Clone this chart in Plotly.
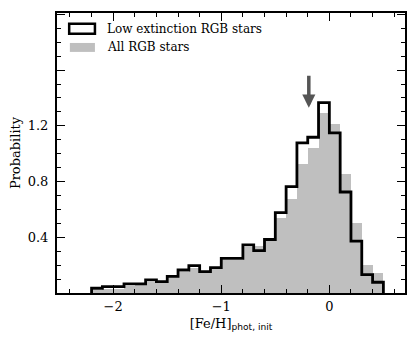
import numpy as np
import plotly.graph_objects as go

# bins of width 0.1 in [Fe/H], from -2.2 to 0.5
bin_left = np.round(np.arange(-2.2, 0.45, 0.1), 2)
bin_width = 0.1

# Low extinction RGB stars (black step outline)
low_ext = [0.034, 0.046, 0.046, 0.065, 0.065, 0.094, 0.082, 0.120, 0.165, 0.196,
           0.154, 0.182, 0.249, 0.249, 0.346, 0.304, 0.384, 0.577, 0.763, 1.077,
           1.118, 1.366, 1.149, 0.725, 0.373, 0.132, 0.077]
# All RGB stars (grey filled)
all_rgb = [0.018, 0.030, 0.030, 0.049, 0.054, 0.077, 0.073, 0.113, 0.149, 0.180,
           0.149, 0.173, 0.239, 0.239, 0.330, 0.339, 0.390, 0.541, 0.673, 0.927,
           1.042, 1.292, 1.213, 0.851, 0.506, 0.204, 0.144]

arrow_x = -0.19
arrow_y_tip, arrow_y_tail = 1.33, 1.57

SERIF = "DejaVu Serif, Liberation Serif, serif"
GREY = "#bfbfbf"

fig = go.Figure()
fig.add_trace(go.Bar(x=bin_left + bin_width / 2, y=all_rgb, width=bin_width,
                     marker=dict(color=GREY, line=dict(width=0)), showlegend=False))

edges = np.append(bin_left, bin_left[-1] + bin_width)
sx = np.concatenate([[edges[0]], edges, [edges[-1]]])
sy = np.concatenate([[0], low_ext, [low_ext[-1], 0]])
fig.add_trace(go.Scatter(x=sx, y=sy, mode="lines", line=dict(color="black", width=2.8, shape="hv"),
                         showlegend=False))

axis_common = dict(showline=True, linewidth=2, linecolor="black", mirror="ticks", ticks="inside",
                   tickcolor="black", tickwidth=1.2, ticklen=8, showgrid=False, zeroline=False,
                   tickfont=dict(family=SERIF, size=13, color="black"))
fig.update_xaxes(range=[-2.52, 0.7], tickvals=[-2, -1, 0], ticktext=["−2", "−1", "0"],
                 minor=dict(dtick=0.2, tick0=0, ticks="inside", ticklen=4, tickwidth=1, tickcolor="black"),
                 title=dict(text="[Fe/H]<sub><span style='font-family:DejaVu Sans'>phot, init</span></sub>",
                            font=dict(family=SERIF, size=13, color="black"), standoff=6),
                 **axis_common)
fig.update_yaxes(range=[0, 2.01], tickvals=[0, 0.4, 0.8, 1.2, 1.6, 2.0],
                 ticktext=["", "0.4", "0.8", "1.2", "", ""], ticklabelstandoff=4,
                 minor=dict(dtick=0.1, tick0=0, ticks="inside", ticklen=4, tickwidth=1, tickcolor="black"),
                 title=dict(text="Probability", font=dict(family=SERIF, size=13, color="black"), standoff=4),
                 **axis_common)

# legend drawn by hand (matplotlib style patches)
shapes = [
    dict(type="rect", xref="paper", yref="paper", x0=0.035, x1=0.109, y0=0.926, y1=0.962,
         line=dict(color="black", width=2.5), fillcolor="white", layer="above"),
    dict(type="rect", xref="paper", yref="paper", x0=0.037, x1=0.109, y0=0.861, y1=0.893,
         line=dict(width=0), fillcolor=GREY, layer="above"),
]
annotations = [
    dict(x=0.138, y=0.944, xref="paper", yref="paper", xanchor="left", yanchor="middle", showarrow=False,
         text="Low extinction RGB stars", font=dict(family=SERIF, size=12, color="black")),
    dict(x=0.138, y=0.878, xref="paper", yref="paper", xanchor="left", yanchor="middle", showarrow=False,
         text="All RGB stars", font=dict(family=SERIF, size=12, color="black")),
    dict(x=arrow_x, y=arrow_y_tip, ax=arrow_x, ay=arrow_y_tail, xref="x", yref="y", axref="x", ayref="y",
         showarrow=True, arrowhead=2, arrowsize=0.75, arrowwidth=3.5, arrowcolor="#555555", text=""),
]

# page body has an 8px margin, so shrink the figure to keep the axes where the reference has them
fig.update_layout(width=407, height=338, margin=dict(l=49, r=10, t=3, b=53),
                  plot_bgcolor="white", paper_bgcolor="white", bargap=0,
                  shapes=shapes, annotations=annotations,
                  font=dict(family=SERIF, color="black"))

fig.write_html("out.html")
